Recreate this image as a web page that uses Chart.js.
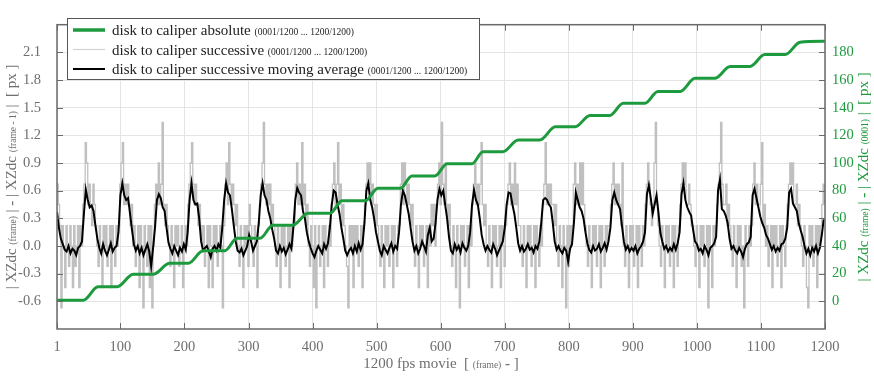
<!DOCTYPE html>
<html lang="en">
<head>
  <meta charset="UTF-8" />
  <title>Disk to caliper</title>
  <script src="https://cdn.jsdelivr.net/npm/chart.js"></script>
  <style>
    html, body { margin: 0; padding: 0; background: #fff; }
    #wrap { width: 874px; height: 377px; }
  </style>
</head>
<body>
  <div id="wrap"><canvas id="chart" width="874" height="377"></canvas></div>

  <script>
    // ---- data ----
    const xTicks = [1, 100, 200, 300, 400, 500, 600, 700, 800, 900, 1000, 1100, 1200];
    const leftTicks = [-0.6, -0.3, 0.0, 0.3, 0.6, 0.9, 1.2, 1.5, 1.8, 2.1];
    const rightTicks = [0, 20, 40, 60, 80, 100, 120, 140, 160, 180];

    // successive difference, one sample every 2 frames starting at frame 1
    const greyStep = 2;
    const greyValues = [
      0.67, 0.45, 0.22, -0.67, 0.22, 0, -0.45, 0.22, 0, -0.22, 0.22, 0, -0.45, 0.22, -0.22, 0, 0.22, -0.45, 0.22, 0,
      0.45, 0.67, 1.12, 0.9, 0.45, 0.67, 0.45, 0.22, 0.67, 0.45, 0.22,
      0, -0.22, 0.22, 0, -0.45, 0.22, 0, 0.22, -0.22, 0, 0.22, -0.45, 0.22, 0, -0.22, 0.22, 0,
      0.22, 0.67, 0.9, 1.12, 0.45, 0.67, 0.45, 0.67, 0.45, 0.22, 0.45,
      0, 0.22, -0.22, 0, 0.22, -0.45, 0.22, 0, -0.67, 0.22, 0, -0.22, 0.22, -0.45, 0.22, -0.67, 0,
      0.45, 0.67, 0.45, 0.9, 0.45, 0.67, 1.34, 0.45, 0.22, 0.45, 0.22,
      0, -0.22, 0.22, 0, -0.45, 0.22, 0, 0.22, -0.22, 0, 0.22, -0.45, 0, 0.22, 0,
      0.45, 0.67, 0.9, 1.12, 0.67, 0.45, 0.67, 0.45, 0.22, 0.45, 0.22,
      0, 0.22, -0.22, 0, 0.22, -0.45, 0.22, 0, -0.45, 0.22, 0, 0.22, -0.22, 0, 0.22, 0, -0.67,
      0.22, 0.67, 0.9, 0.45, 1.12, 0.67, 0.45, 0.67, 0.45, 0.22, 0.45,
      0, -0.22, 0.22, 0, -0.45, 0.22, 0, 0.22, -0.22, 0.45, 0.22, 0, -0.22, 0.22, 0, -0.45, 0.22,
      0.45, 0.67, 0.9, 1.34, 0.67, 0.45, 0.67, 0.45, 0.67, 0.22, 0.45,
      0.22, 0, -0.22, 0.22, 0, -0.45, 0.22, 0, 0.22, -0.22, 0, 0.22, -0.45, 0.22, 0, 0.22,
      0.22, 0.67, 0.9, 0.45, 0.67, 0.45, 1.12, 0.45, 0.67, 0.22, 0.45,
      0, -0.22, 0.22, 0, -0.45, 0.22, -0.67, 0, 0.22, -0.22, 0, 0.22, -0.45, 0.22, 0, -0.22, 0.22, 0,
      0.45, 0.67, 0.9, 0.45, 0.67, 1.12, 0.45, 0.67, 0.22, 0.45, 0.22,
      0, -0.22, -0.67, 0.22, 0, 0.22, -0.45, 0.22, 0, 0.22, -0.22, 0, 0.22, -0.45, 0.22,
      0.45, 0.67, 0.9, 0.67, 0.9, 0.45, 0.67, 0.45, 0.22, 0.45, 0.22,
      0, -0.22, 0.22, 0, -0.45, 0.22, 0, 0.22, -0.22, 0, 0.22, -0.45, 0.22, 0, -0.22, 0.22,
      0.22, 0.67, 0.9, 0.45, 0.9, 0.67, 0.45, 0.67, 0.45, 0.22, 0.45,
      0, -0.22, 0.22, 0, -0.45, 0.22, 0, 0.22, -0.22, 0, 0.22, -0.45, 0.22, 0, 0.45, 0.22, 0.45, 0,
      0.45, 0.67, 0.9, 0.45, 1.34, 0.67, 0.45, 0.9, 0.45, 0.22, 0.45,
      0, -0.22, 0.22, 0, -0.45, 0.22, 0, -0.67, 0.22, 0, 0.22, -0.22, 0, 0.22, -0.45, 0.22, 0,
      0.45, 0.67, 0.9, 0.45, 0.67, 0.45, 0.67, 1.12, 0.45, 0.22, 0.45,
      0, -0.22, 0.22, 0, -0.45, 0.22, 0, 0.22, -0.22, 0, 0.22, -0.45, 0.22, 0, -0.22, 0.22,
      0.45, 0.67, 0.9, 0.45, 0.67, 0.45, 0.9, 0.45, 0.67, 0.22, 0.22,
      0, -0.22, 0.22, 0, -0.45, 0.22, 0, 0.22, -0.22, 0, 0.22, -0.45, 0.22, 0, -0.22, 0.22, 0,
      0.45, 0.67, 1.12, 0.45, 0.67, 0.45, 0.67, 0.45, 0.45, 0.22, 0.45,
      0, -0.22, 0.22, 0, -0.45, 0.22, 0, -0.67, 0.22, -0.22, 0.22, 0,
      0.22, 0.67, 0.9, 0.45, 0.67, 0.45, 0.9, 0.45, 0.9, 0.45, 0.22,
      0, -0.22, 0.22, 0, -0.45, 0.22, 0, 0.22, -0.22, 0, 0.22, -0.45, 0.22, 0, -0.22, 0.22, 0, 0.22,
      0.22, 0.45, 0.67, 0.9, 0.45, 0.67, 0.45, 0.67, 0.45, 0.22, 0.9,
      0, -0.22, 0.22, 0, -0.45, 0.22, 0, 0.22, -0.22, 0, 0.22, -0.45, 0.22, 0, -0.22, 0.22, 0,
      0.45, 0.67, 0.9, 0.67, 0.45, 0.22, 0.45, 0.9, 1.34, 0.45, 0.22,
      0, -0.22, 0.22, 0, -0.45, 0.22, 0, 0.22, -0.22, 0, 0.22, -0.45, 0.22, 0, -0.22, 0.22,
      0.45, 0.67, 0.9, 0.67, 0.9, 0.45, 0.45, 0.67, 0.45, 0.22, 0.22,
      0, -0.22, 0.22, 0, -0.45, 0.22, 0, 0.22, -0.22, 0, 0.22, -0.67, 0.22, 0, -0.45, 0.22, 0, 0.22,
      0.45, 0.67, 0.9, 1.34, 0.67, 0.45, 0.45, 0.67, 0.22, 0.45, 0.22,
      0, -0.22, 0.22, 0, -0.45, 0.22, 0, 0.22, -0.22, 0, -0.67, 0.22, 0, -0.22, 0.22, 0,
      0.22, 0.67, 0.9, 0.45, 0.67, 0.45, 0.45, 0.67, 1.12, 0.22, 0.45,
      0, 0.22, -0.22, 0, 0.22, -0.45, 0.22, 0, 0.22, -0.22, 0, 0.22, -0.45, 0.22, 0, -0.22, 0.22,
      0.45, 0.67, 0.9, 0.67, 0.9, 0.45, 0.45, 0.67, 0.22, 0.45, 0.22,
      0, -0.22, 0.22, 0, -0.45, -0.67, 0.22, 0, 0.22, -0.22, 0, 0.22, -0.45, 0.22, 0, 0.22, 0.45, 0.67, 0.45
    ];

    // moving average, one sample every 3 frames starting at frame 1
    const blackStep = 3;
    const blackValues = [
      0.37, 0.2, 0.08,
      0.02, -0.04, -0.06, 0.0, -0.08, -0.03, -0.05, -0.1, -0.02, 0.0,
      0.05, 0.35, 0.61, 0.5, 0.42, 0.44, 0.38, 0.22, 0.08,
      -0.02, -0.08, 0.02, -0.05, -0.1, -0.04, 0.03, -0.06, -0.02, 0.0,
      0.15, 0.55, 0.68, 0.55, 0.5, 0.52, 0.35, 0.18, 0.02,
      -0.05, 0.0, -0.08, -0.02, -0.1, -0.04, 0.02, -0.06, -0.22, -0.02,
      0.2, 0.5, 0.56, 0.52, 0.42, 0.38, 0.2, 0.04,
      -0.03, -0.08, 0.0, -0.05, -0.1, -0.02, -0.06, 0.02, -0.04,
      0.15, 0.5, 0.68, 0.5, 0.45, 0.46, 0.3, 0.05,
      -0.05, -0.02, 0.0, -0.06, -0.12, -0.03, 0.0, -0.05, 0.02, -0.02,
      0.2, 0.5, 0.68, 0.58, 0.55, 0.4, 0.22, 0.05,
      -0.05, -0.07, -0.03, -0.1, -0.05, 0.0, 0.12, 0.05, -0.05, 0.0, 0.05,
      0.25, 0.55, 0.68, 0.55, 0.5, 0.38, 0.3, 0.18,
      0.08, -0.05, -0.08, 0.0, -0.06, -0.02, -0.09, -0.04, 0.02, -0.03,
      0.2, 0.5, 0.63, 0.58, 0.55, 0.38, 0.3, 0.15, 0.05,
      -0.02, -0.08, -0.12, -0.05, 0.0, -0.04, -0.08, 0.02, -0.03, 0.03,
      0.2, 0.45, 0.6, 0.58, 0.45, 0.35, 0.2, 0.08, -0.05,
      -0.1, -0.05, -0.02, -0.08, 0.0, -0.06, 0.03, -0.04, 0.02,
      0.25, 0.6, 0.68, 0.5, 0.42, 0.3, 0.15, 0.05,
      -0.05, -0.1, 0.0, -0.04, -0.08, -0.02, 0.03, -0.06, 0.0, -0.03,
      0.15, 0.45, 0.6, 0.55, 0.45, 0.35, 0.2, 0.05,
      -0.05, 0.0, -0.08, -0.03, 0.05, 0.0, -0.06, 0.12, 0.2, 0.05, 0.08,
      0.25, 0.5, 0.62, 0.55, 0.6, 0.45, 0.3, 0.1,
      -0.05, -0.08, 0.02, -0.04, 0.0, -0.07, 0.03, -0.02, -0.05, 0.0,
      0.15, 0.45, 0.61, 0.5, 0.45, 0.3, 0.12, 0.02,
      -0.05, 0.0, -0.04, -0.07, 0.02, -0.03, -0.1, -0.05, 0.0, 0.05,
      0.2, 0.45, 0.58, 0.57, 0.45, 0.35, 0.2, 0.03,
      -0.05, 0.0, -0.06, -0.03, 0.02, -0.04, -0.02, -0.07, 0.0, -0.03, 0.05,
      0.25, 0.5, 0.52, 0.5, 0.45, 0.42, 0.25, 0.05,
      -0.04, 0.0, -0.05, -0.08, -0.02, -0.05, -0.17, -0.03, 0.02,
      0.25, 0.58, 0.5, 0.42, 0.38, 0.3, 0.15, 0.03,
      -0.04, -0.07, 0.0, -0.05, -0.03, 0.02, -0.06, -0.02, 0.03, -0.04, 0.05,
      0.2, 0.5, 0.58, 0.5, 0.45, 0.4, 0.22, 0.05,
      -0.04, 0.0, -0.06, -0.02, -0.05, 0.0, -0.08, -0.03, 0.0, 0.05,
      0.15, 0.56, 0.66, 0.52, 0.35, 0.45, 0.55, 0.36, 0.14, 0.05,
      -0.03, 0.0, -0.06, -0.02, -0.05, 0.02, -0.04,
      0.03, 0.15, 0.56, 0.68, 0.5, 0.42, 0.37, 0.33, 0.18, 0.05, 0.02,
      -0.05, -0.03, -0.08, 0.0, -0.04, -0.1, -0.02, 0.0,
      0.03, 0.1, 0.6, 0.72, 0.4, 0.38, 0.33, 0.25, 0.08,
      -0.03, 0.0, -0.05, -0.08, -0.02, -0.06, -0.12, -0.03, 0.02,
      0.04, 0.1, 0.55, 0.62, 0.52, 0.42, 0.32, 0.25, 0.2, 0.12, 0.08, 0.02,
      -0.04, 0.0, -0.06, -0.02, -0.05, 0.02,
      0.03, 0.08, 0.2, 0.58, 0.62, 0.46, 0.42, 0.38, 0.25, 0.17, 0.1, 0.0,
      -0.08, -0.03, -0.1, -0.02, -0.06, 0.0, -0.08, -0.02, 0.12, 0.29
    ];

    // absolute position, staircase corners (right axis)
    const greenFrames = [1, 42, 65, 95, 120, 151, 177, 206, 229, 263, 282, 318, 338, 369, 393, 427, 446, 482,
      502, 537, 555, 591, 610, 649, 666, 697, 721, 755, 779, 810, 833, 864, 885, 919, 939, 974, 997, 1028,
      1052, 1083, 1106, 1138, 1161, 1200];
    const greenValues = [0.8, 0.8, 10.5, 10.5, 19.5, 19.5, 27.5, 27.5, 36.5, 36.5, 45.6, 45.6, 55, 55, 63.6, 63.6,
      72.7, 72.7, 81.7, 81.7, 90.7, 90.7, 99.5, 99.5, 108.1, 108.1, 116.7, 116.7, 126.2, 126.2, 134.4, 134.4,
      143.2, 143.2, 151.7, 151.7, 161.2, 161.2, 169.8, 169.8, 178.4, 178.4, 187.3, 188];

    // ---- styling ----
    const SERIF = "'Liberation Serif', 'Times New Roman', serif";
    const GREEN = '#1d9a3d';
    const GREY_LINE = '#c0c0c0';
    const TEXT_GREY = '#6f6f6f';
    const FRAME = '#6a6a6a';
    const BIG = 15, SMALL = 9.5;

    function font(size, bold) {
      return (bold ? 'bold ' : '') + size + 'px ' + SERIF;
    }
    function richWidth(ctx, parts) {
      let w = 0;
      parts.forEach(p => { ctx.font = font(p.s, p.b); w += ctx.measureText(p.t).width; });
      return w;
    }
    function drawRich(ctx, parts, x, y, color) {
      ctx.fillStyle = color;
      ctx.textAlign = 'left';
      ctx.textBaseline = 'alphabetic';
      parts.forEach(p => {
        ctx.font = font(p.s, p.b);
        ctx.fillText(p.t, x, y);
        x += ctx.measureText(p.t).width;
      });
    }
    // vertical title, reads bottom to top, centred on cy
    function drawRichVertical(ctx, parts, bx, cy, color) {
      ctx.save();
      ctx.translate(bx, cy);
      ctx.rotate(-Math.PI / 2);
      drawRich(ctx, parts, -richWidth(ctx, parts) / 2, 0, color);
      ctx.restore();
    }

    const frameText = { t: '(0001/1200 ... 1200/1200)', s: SMALL };
    const legendItems = [
      { color: GREEN, width: 3.5, parts: [{ t: 'disk to caliper absolute ', s: BIG }, frameText] },
      { color: '#d2d2d2', width: 1.2, parts: [{ t: 'disk to caliper successive ', s: BIG }, frameText] },
      { color: '#000', width: 2, parts: [{ t: 'disk to caliper successive moving average ', s: BIG }, frameText] }
    ];

    const decorations = {
      id: 'decorations',
      afterDatasetsDraw(chart) {
        const ctx = chart.ctx;
        const a = chart.chartArea;
        const x = chart.scales.x, y = chart.scales.y, y2 = chart.scales.y2;
        ctx.save();
        // inward tick marks
        ctx.strokeStyle = FRAME;
        ctx.lineWidth = 1;
        ctx.beginPath();
        xTicks.forEach(v => {
          const px = Math.round(x.getPixelForValue(v)) + 0.5;
          ctx.moveTo(px, a.bottom); ctx.lineTo(px, a.bottom - 6);
          ctx.moveTo(px, a.top); ctx.lineTo(px, a.top + 6);
        });
        leftTicks.forEach(v => {
          const py = Math.round(y.getPixelForValue(v)) + 0.5;
          ctx.moveTo(a.left, py); ctx.lineTo(a.left + 6, py);
        });
        rightTicks.forEach(v => {
          const py = Math.round(y2.getPixelForValue(v)) + 0.5;
          ctx.moveTo(a.right, py); ctx.lineTo(a.right - 6, py);
        });
        ctx.stroke();
        // plot frame
        ctx.lineWidth = 1.5;
        ctx.strokeRect(a.left, a.top, a.right - a.left, a.bottom - a.top);
        ctx.restore();
      },
      afterDraw(chart) {
        const ctx = chart.ctx;
        const a = chart.chartArea;
        ctx.save();

        // axis titles
        const bottomParts = [
          { t: '1200 fps movie  [ ', s: BIG }, { t: '(frame)', s: SMALL },
          { t: ' ', s: BIG }, { t: '-', s: BIG, b: true }, { t: ' ]', s: BIG }
        ];
        drawRich(ctx, bottomParts, (a.left + a.right) / 2 - richWidth(ctx, bottomParts) / 2, 368, TEXT_GREY);

        const leftParts = [
          { t: '| XZdc ', s: BIG }, { t: '(frame)', s: SMALL }, { t: ' | ', s: BIG }, { t: '-', s: BIG, b: true },
          { t: ' | XZdc ', s: BIG }, { t: '(frame - 1)', s: SMALL }, { t: ' |  [ px ]', s: BIG }
        ];
        drawRichVertical(ctx, leftParts, 16, (a.top + a.bottom) / 2, TEXT_GREY);

        const rightParts = [
          { t: '| XZdc ', s: BIG }, { t: '(frame)', s: SMALL }, { t: ' | ', s: BIG }, { t: '-', s: BIG, b: true },
          { t: ' | XZdc ', s: BIG }, { t: '(0001)', s: SMALL }, { t: ' |  [ px ]', s: BIG }
        ];
        drawRichVertical(ctx, rightParts, 868, (a.top + a.bottom) / 2, GREEN);

        // legend box
        ctx.fillStyle = '#fff';
        ctx.fillRect(67, 18, 413, 62);
        ctx.strokeStyle = '#555';
        ctx.lineWidth = 1;
        ctx.strokeRect(67.5, 18.5, 412, 61);
        legendItems.forEach((it, i) => {
          const ly = 30 + i * 19.5;
          ctx.strokeStyle = it.color;
          ctx.lineWidth = it.width;
          ctx.beginPath();
          ctx.moveTo(73, ly); ctx.lineTo(105, ly);
          ctx.stroke();
          drawRich(ctx, it.parts, 112, ly + 5, '#222');
        });
        ctx.restore();
      }
    };

    const greyData = greyValues.map((v, i) => ({ x: 1 + i * greyStep, y: v }));
    const blackData = blackValues.map((v, i) => ({ x: 1 + i * blackStep, y: v }));
    const greenData = greenFrames.map((f, i) => ({ x: f, y: greenValues[i] }));

    const tickFont = { family: SERIF, size: 14.5 };

    new Chart(document.getElementById('chart'), {
      type: 'line',
      data: {
        datasets: [
          { label: 'disk to caliper absolute', data: greenData, yAxisID: 'y2', borderColor: GREEN,
            borderWidth: 3, pointRadius: 0, cubicInterpolationMode: 'monotone', order: 0 },
          { label: 'disk to caliper successive moving average', data: blackData, yAxisID: 'y', borderColor: '#000',
            borderWidth: 2, pointRadius: 0, tension: 0, order: 1 },
          { label: 'disk to caliper successive', data: greyData, yAxisID: 'y', borderColor: GREY_LINE,
            borderWidth: 1.3, pointRadius: 0, stepped: true, order: 2 }
        ]
      },
      options: {
        responsive: false,
        animation: false,
        devicePixelRatio: 1,
        layout: { padding: { top: 4, left: 0, right: 0, bottom: 0 } },
        plugins: { legend: { display: false }, tooltip: { enabled: false } },
        scales: {
          x: {
            type: 'linear', min: 1, max: 1200,
            afterBuildTicks: s => { s.ticks = xTicks.map(v => ({ value: v })); },
            afterFit: s => { s.height = 48; },
            grid: { color: '#e4e4e4', drawTicks: false },
            border: { display: false },
            ticks: { color: TEXT_GREY, font: tickFont, padding: 9, maxRotation: 0, autoSkip: false,
              callback: v => String(v) }
          },
          y: {
            position: 'left', min: -0.9, max: 2.4,
            afterBuildTicks: s => { s.ticks = leftTicks.map(v => ({ value: v })); },
            afterFit: s => { s.width = 57; },
            grid: { color: '#e4e4e4', drawTicks: false },
            border: { display: false },
            ticks: { color: TEXT_GREY, font: tickFont, padding: 16, callback: v => v.toFixed(1) }
          },
          y2: {
            position: 'right', min: -20, max: 200,
            afterBuildTicks: s => { s.ticks = rightTicks.map(v => ({ value: v })); },
            afterFit: s => { s.width = 49; },
            grid: { drawOnChartArea: false, drawTicks: false },
            border: { display: false },
            ticks: { color: GREEN, font: tickFont, padding: 7, callback: v => String(v) }
          }
        }
      },
      plugins: [decorations]
    });
  </script>
</body>
</html>
